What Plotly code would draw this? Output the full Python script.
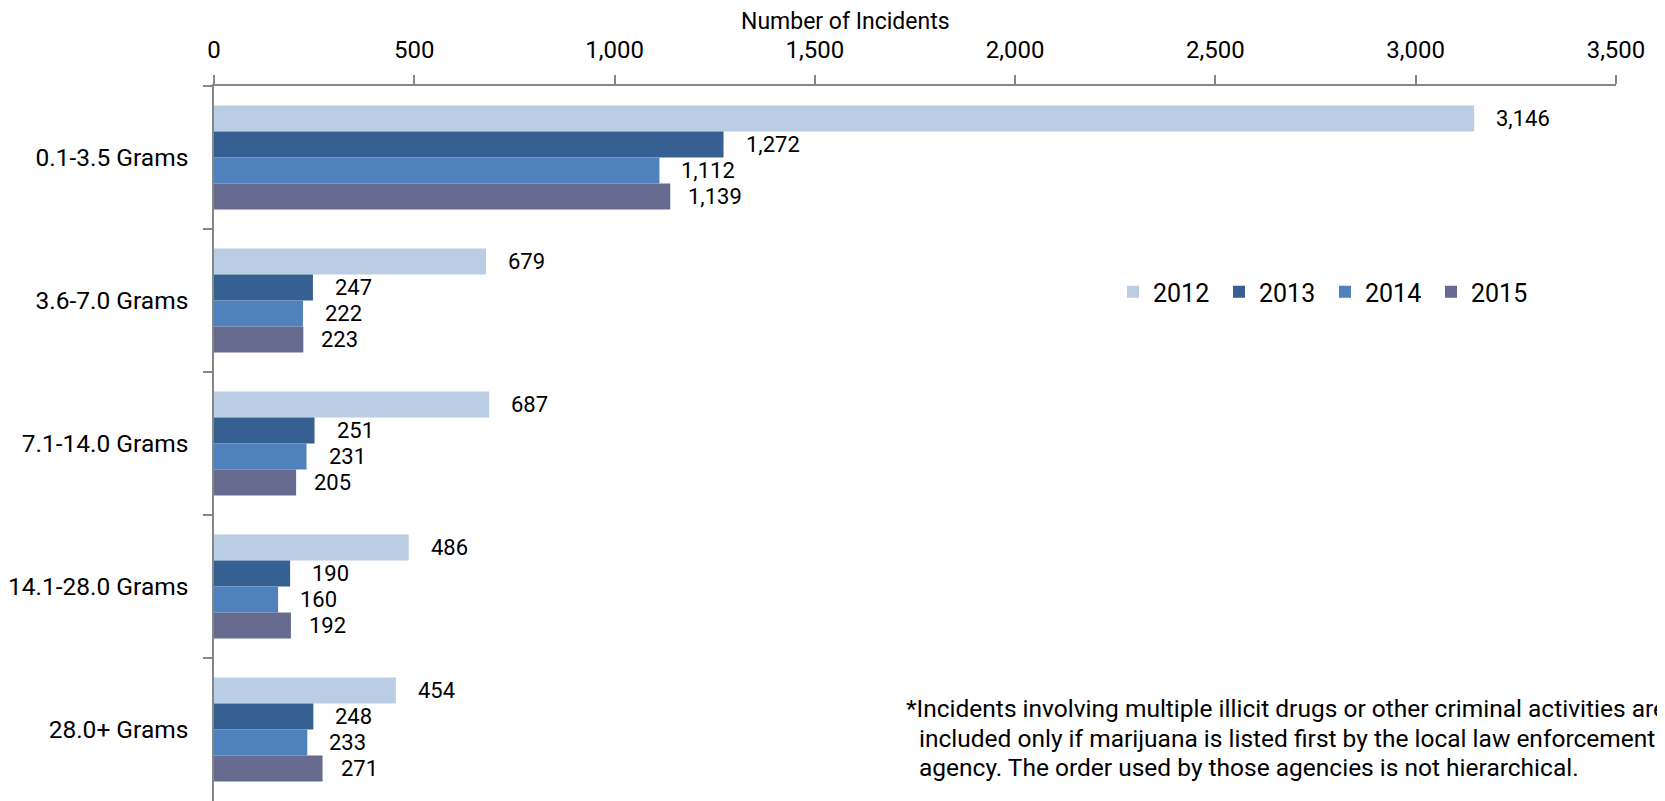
import plotly.graph_objects as go

categories = ["0.1-3.5 Grams", "3.6-7.0 Grams", "7.1-14.0 Grams", "14.1-28.0 Grams", "28.0+ Grams"]
years = ["2012", "2013", "2014", "2015"]
v2012 = [3146, 679, 687, 486, 454]
v2013 = [1272, 247, 251, 190, 248]
v2014 = [1112, 222, 231, 160, 233]
v2015 = [1139, 223, 205, 192, 271]
series = [v2012, v2013, v2014, v2015]
colors = ["#B9CDE5", "#376092", "#4F81BD", "#666B8F"]

x_ticks = [0, 500, 1000, 1500, 2000, 2500, 3000, 3500]
footnote = [
    "*Incidents involving multiple illicit drugs or other criminal activities are",
    "included only if marijuana is listed first by the local law enforcement",
    "agency. The order used by those agencies is not hierarchical.",
]

FONT = "Roboto, Liberation Sans, sans-serif"
GRAY = "#868686"
BARGAP = 0.274

# plot area in page pixels (page body has an 8px margin)
PL, PR, PT, PB = 214, 1616, 86, 801


def px(X):
    return (X - PL) / (PR - PL)


def py(Y):
    return (PB - Y) / (PB - PT)


fig = go.Figure()
for name, vals, col in zip(years, series, colors):
    fig.add_trace(go.Bar(
        name=name, y=categories, x=vals, orientation="h",
        marker=dict(color=col, line=dict(width=0)),
    ))

# value labels
bw = (1 - BARGAP) / len(series)
annotations = []
for i, vals in enumerate(series):
    for j, v in enumerate(vals):
        ypos = j - (1 - BARGAP) / 2 + bw * (i + 0.5)
        annotations.append(dict(
            x=v, y=ypos, xref="x", yref="y", text=f"{v:,}", showarrow=False,
            xanchor="left", yanchor="middle", xshift=20 if i < 3 else 16,
            font=dict(family=FONT, size=22, color="#000000"),
        ))

annotations.append(dict(
    x=px(845), y=py(21), xref="paper", yref="paper",
    text="Number of Incidents", showarrow=False, xanchor="center", yanchor="middle",
    font=dict(family=FONT, size=23, color="#000000"),
))
fn_y = [708, 738, 767]
fn_x = [904, 917, 917]
for t, yy, xx in zip(footnote, fn_y, fn_x):
    annotations.append(dict(
        x=px(xx), y=py(yy), xref="paper", yref="paper",
        text=t, showarrow=False, xanchor="left", yanchor="middle",
        font=dict(family=FONT, size=24.5, color="#000000"),
    ))

fig.update_layout(
    width=1657, height=793,
    margin=dict(l=PL - 8, r=1665 - PR, t=PT - 8, b=0, pad=0, autoexpand=False),
    paper_bgcolor="white", plot_bgcolor="white",
    barmode="group", bargap=BARGAP, bargroupgap=0,
    font=dict(family=FONT, size=22, color="#000000"),
    showlegend=True,
    legend=dict(
        orientation="h", x=px(1113), y=py(292),
        xanchor="left", yanchor="middle",
        font=dict(family=FONT, size=25, color="#000000"),
        entrywidth=61, entrywidthmode="pixels", traceorder="normal",
        bgcolor="rgba(0,0,0,0)",
    ),
    xaxis=dict(
        side="top", range=[0, 3500], tickvals=x_ticks, tickformat=",",
        ticks="outside", ticklen=9, tickcolor=GRAY, tickwidth=1.5,
        showline=True, linecolor=GRAY, linewidth=1.5,
        showgrid=False, zeroline=False, automargin=False,
        tickfont=dict(family=FONT, size=24), ticklabelstandoff=8,
    ),
    yaxis=dict(
        type="category", range=[4.5, -0.5], tickson="boundaries",
        ticks="outside", ticklen=9, tickcolor=GRAY, tickwidth=1.5,
        showline=True, linecolor=GRAY, linewidth=1.5,
        showgrid=False, zeroline=False, automargin=False,
        tickfont=dict(family=FONT, size=24.5), ticklabelstandoff=19,
    ),
    annotations=annotations,
)

fig.write_html("out.html")
